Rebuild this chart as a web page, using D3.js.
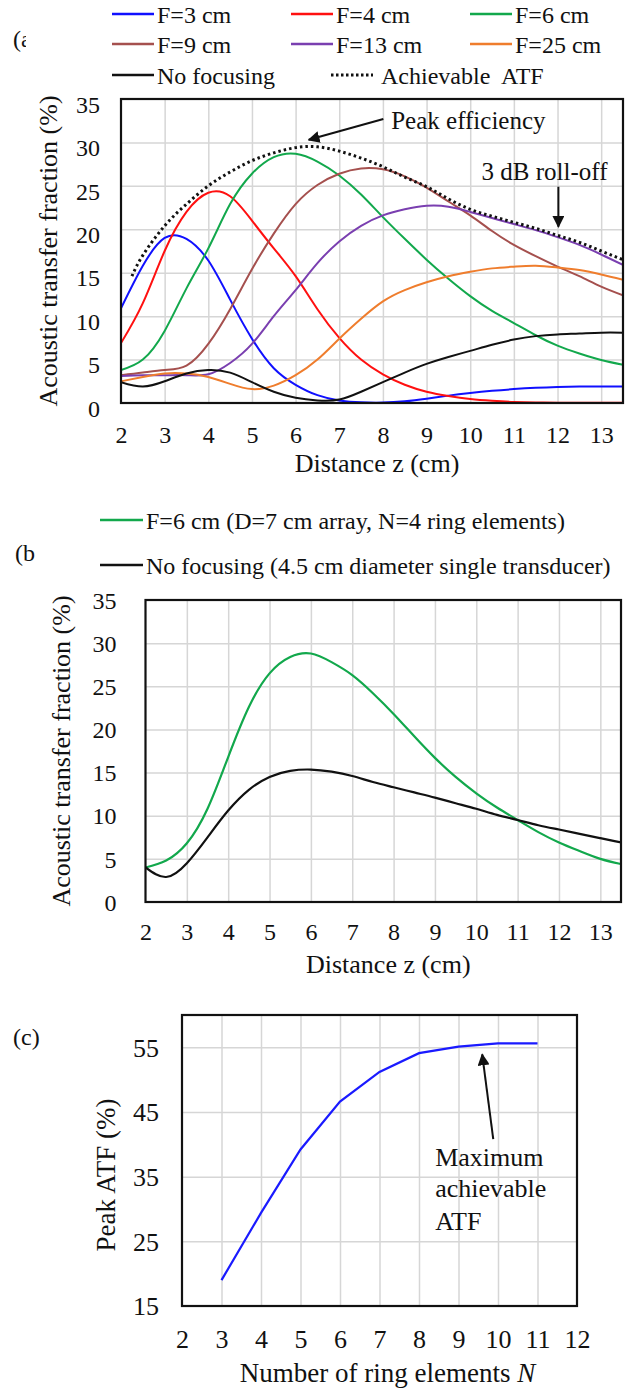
<!DOCTYPE html>
<html><head><meta charset="utf-8">
<script src="https://cdn.jsdelivr.net/npm/d3@7"></script>
<style>
html,body{margin:0;padding:0;background:#fff;}
</style></head>
<body><svg id="chart" width="627" height="1389"></svg>
<script>
// ---------- Data ----------
const zGrid = [2,2.5,3,3.5,4,4.5,5,5.5,6,6.5,7,7.5,8,8.5,9,9.5,10,10.5,11,11.5,12,12.5,13,13.5];
const xTicksZ = [2,3,4,5,6,7,8,9,10,11,12,13];
const yTicksATF = [0,5,10,15,20,25,30,35];

const atfF3  = [10.9,15.8,19.0,18.9,16.4,11.9,7.4,4.0,2.1,0.9,0.3,0.08,0.05,0.2,0.5,0.85,1.15,1.4,1.6,1.75,1.85,1.9,1.9,1.9];
const atfF4  = [6.9,11.5,17.5,22.0,24.2,23.8,21.0,17.8,14.6,10.8,7.5,5.0,3.3,2.1,1.3,0.8,0.45,0.25,0.12,0.06,0.04,0.03,0.03,0.03];
const atfF6  = [3.8,5.0,8.3,13.2,17.8,22.9,26.4,28.3,28.7,27.8,26.2,24.0,21.4,18.9,16.5,14.3,12.3,10.6,9.2,7.8,6.6,5.7,4.95,4.4];
const atfF9  = [3.2,3.5,3.8,4.3,6.8,10.8,15.4,19.5,22.9,25.1,26.4,27.0,26.9,26.1,24.8,23.2,21.6,19.8,18.2,16.9,15.7,14.6,13.4,12.4];
const atfF13 = [3.1,3.2,3.2,3.2,3.3,4.6,6.8,10.0,13.0,16.1,18.6,20.4,21.6,22.3,22.7,22.6,22.0,21.3,20.6,19.9,19.1,18.2,17.1,15.9];
const atfF25 = [2.5,3.0,3.4,3.4,3.0,2.2,1.6,2.0,3.2,5.0,7.4,9.7,11.7,13.0,13.9,14.6,15.1,15.5,15.7,15.8,15.6,15.3,14.8,14.2];
const atfNoFocus = [2.4,1.9,2.5,3.4,3.8,3.5,2.4,1.3,0.6,0.3,0.4,1.3,2.4,3.5,4.5,5.3,6.0,6.7,7.3,7.7,7.9,8.0,8.1,8.1];

const zAchievable = [2.25,2.5,3,3.5,4,4.5,5,5.5,6,6.5,7,7.5,8,8.5,9,9.5,10,10.5,11,11.5,12,12.5,13,13.5];
const atfAchievable = [14.6,17.0,20.4,22.9,25.0,26.6,27.9,28.8,29.4,29.5,29.0,28.2,27.2,26.0,24.9,23.5,22.3,21.5,20.8,20.1,19.3,18.5,17.5,16.5];

const seriesNamesA = ["F=3 cm","F=4 cm","F=6 cm","F=9 cm","F=13 cm","F=25 cm","No focusing","Achievable\u00a0 ATF"];
const seriesColorsA = ["#1010ff","#ff1010","#12a84c","#a5504e","#7a3fb0","#ef7d2d","#111111","#111111"];

// panel (b)
const atfB_F6 = [4.0,4.8,6.8,10.8,16.8,22.6,26.5,28.4,28.8,27.8,26.3,24.2,21.8,19.2,16.7,14.5,12.6,10.95,9.5,8.1,6.9,5.9,5.0,4.4];
const atfB_NoFocus = [4.0,2.9,4.5,7.5,10.6,13.0,14.5,15.2,15.35,15.1,14.6,13.9,13.3,12.7,12.1,11.45,10.8,10.1,9.5,8.9,8.4,7.9,7.4,6.9];
const seriesNamesB = ["F=6 cm (D=7 cm array, N=4 ring elements)","No focusing (4.5 cm diameter single transducer)"];

// panel (c)
const ringN = [3,4,5,6,7,8,9,10,11];
const peakATF = [19.0,29.4,39.2,46.6,51.2,54.1,55.1,55.6,55.6];
const xTicksN = [2,3,4,5,6,7,8,9,10,11,12];
const yTicksPeak = [15,25,35,45,55];

// ---------- Drawing ----------
const FONT = '"Liberation Serif", "Times New Roman", Tinos, "DejaVu Serif", serif';
const svg = d3.select("#chart").attr("font-family", FONT);
svg.append("rect").attr("width",627).attr("height",1389).attr("fill","#fff");

const defs = svg.append("defs");
defs.append("marker").attr("id","ah").attr("viewBox","0 0 10 10").attr("refX",9).attr("refY",5)
  .attr("markerWidth",6).attr("markerHeight",6).attr("markerUnits","strokeWidth").attr("orient","auto")
  .append("path").attr("d","M0,0 L10,5 L0,10 Z").attr("fill","#111");
defs.append("clipPath").attr("id","clipA").append("rect").attr("x",0).attr("y",20).attr("width",26).attr("height",40);

const GRID = "#d6d6d6";
const curve = d3.curveNatural;

function txt(sel){ return sel.attr("font-family",FONT).attr("fill","#111"); }
function plotClip(id,x,y){
  const [x0,x1]=x.range(),[y0,y1]=y.range();
  defs.append("clipPath").attr("id",id).append("rect").attr("x",x0).attr("y",y1-2).attr("width",x1-x0).attr("height",y0-y1+2);
}

function panel(g, x, y, xt, yt, opts){
  const [x0,x1] = x.range(), [y0,y1] = y.range();
  g.append("g").attr("transform",`translate(0,${y0})`)
    .call(d3.axisBottom(x).tickValues(xt.filter(v=>v>x.domain()[0] && v<x.domain()[1])).tickSize(-(y0-y1)).tickFormat(""))
    .call(s=>{s.select(".domain").remove(); s.selectAll("line").attr("stroke",GRID).attr("stroke-width",1.5);});
  g.append("g").attr("transform",`translate(${x0},0)`)
    .call(d3.axisLeft(y).tickValues(yt.filter(v=>v>y.domain()[0] && v<y.domain()[1])).tickSize(-(x1-x0)).tickFormat(""))
    .call(s=>{s.select(".domain").remove(); s.selectAll("line").attr("stroke",GRID).attr("stroke-width",1.5);});
  g.append("g").attr("transform",`translate(0,${y0})`)
    .call(d3.axisBottom(x).tickValues(xt).tickSize(0).tickFormat(d3.format("d")))
    .call(s=>{s.attr("font-family",FONT).attr("font-size",opts.fs); s.select(".domain").remove();
      txt(s.selectAll("text")).attr("y",opts.xTickY).attr("dy",0);});
  g.append("g").attr("transform",`translate(${x0},0)`)
    .call(d3.axisLeft(y).tickValues(yt).tickSize(0).tickPadding(opts.yPad).tickFormat(d3.format("d")))
    .call(s=>{s.attr("font-family",FONT).attr("font-size",opts.fs); s.select(".domain").remove();
      txt(s.selectAll("text")).attr("y",opts.yTickDY).attr("dy","0.34em");});
  txt(g.append("text")).attr("x",(x0+x1)/2+opts.titleDx).attr("y",opts.xTitleY).attr("text-anchor","middle")
    .attr("font-size",opts.tfs).html(opts.xTitle);
  txt(g.append("text")).attr("transform",`translate(${opts.yTitleX},${opts.yTitleCY}) rotate(-90)`)
    .attr("text-anchor","middle").attr("font-size",opts.tfs).text(opts.yTitle);
}
function frame(g,x,y){
  const [x0,x1]=x.range(),[y0,y1]=y.range();
  g.append("rect").attr("x",x0).attr("y",y1).attr("width",x1-x0).attr("height",y0-y1)
   .attr("fill","none").attr("stroke","#111").attr("stroke-width",2.2);
}

// ---- Panel (a)
const xA = d3.scaleLinear([2,13.5],[121,623]);
const yA = d3.scaleLinear([0,35],[403,99]);
plotClip("clipPA",xA,yA);
const gA = svg.append("g");
panel(gA,xA,yA,xTicksZ,yTicksATF,{fs:24,tfs:26,xTickY:40,yPad:21,yTickDY:5,titleDx:5,xTitleY:472,
  yTitleX:57,yTitleCY:251,xTitle:"Distance z (cm)",yTitle:"Acoustic transfer fraction (%)"});
const lineA = d3.line().x((d,i)=>xA(zGrid[i])).y(d=>yA(d)).curve(curve);
const seriesA = [atfF3,atfF4,atfF6,atfF9,atfF13,atfF25,atfNoFocus];
const gAc = gA.append("g").attr("clip-path","url(#clipPA)");
gAc.selectAll("path.sa").data(seriesA).join("path").attr("class","sa")
  .attr("d",lineA).attr("fill","none").attr("stroke",(d,i)=>seriesColorsA[i]).attr("stroke-width",2);
const lineAch = d3.line().x((d,i)=>xA(zAchievable[i])).y(d=>yA(d)).curve(curve);
gAc.append("path").datum(atfAchievable).attr("d",lineAch).attr("fill","none").attr("stroke","#111")
  .attr("stroke-width",3).attr("stroke-dasharray","2.5,3");
frame(gA,xA,yA);

gA.append("line").attr("x1",xA(8.01)).attr("y1",yA(32.7)).attr("x2",xA(6.3)).attr("y2",yA(30.3))
  .attr("stroke","#111").attr("stroke-width",2).attr("marker-end","url(#ah)");
txt(gA.append("text")).attr("x",xA(8.19)).attr("y",yA(31.5)).attr("font-size",25).text("Peak efficiency");
gA.append("line").attr("x1",xA(12.02)).attr("y1",yA(24.9)).attr("x2",xA(12.02)).attr("y2",yA(20.3))
  .attr("stroke","#111").attr("stroke-width",2).attr("marker-end","url(#ah)");
txt(gA.append("text")).attr("x",xA(10.26)).attr("y",yA(25.7)).attr("font-size",25).text("3 dB roll-off");

const legCols = [112,291,470], legRows = [14,44,75];
seriesNamesA.forEach((nm,i)=>{
  const cx = legCols[i%3], cy = legRows[Math.floor(i/3)];
  const isDot = i===7;
  const lx0 = isDot ? 331 : cx, lx1 = isDot ? 373 : cx+42;
  gA.append("line").attr("x1",lx0).attr("x2",lx1).attr("y1",cy).attr("y2",cy)
    .attr("stroke",seriesColorsA[i]).attr("stroke-width",isDot?3:2.5).attr("stroke-dasharray",isDot?"2.5,2.5":null);
  txt(gA.append("text")).attr("x",isDot?381:cx+45).attr("y",cy+8.5).attr("font-size",24).text(nm);
});
txt(svg.append("text")).attr("x",13).attr("y",47).attr("font-size",24).attr("clip-path","url(#clipA)").text("(a");

// ---- Panel (b)
const xB = d3.scaleLinear([2,13.5],[145.5,621]);
const yB = d3.scaleLinear([0,35],[902,600]);
plotClip("clipPB",xB,yB);
const gB = svg.append("g");
panel(gB,xB,yB,xTicksZ,yTicksATF,{fs:24,tfs:26,xTickY:38,yPad:29,yTickDY:0,titleDx:5,xTitleY:973,
  yTitleX:70,yTitleCY:751,xTitle:"Distance z (cm)",yTitle:"Acoustic transfer fraction (%)"});
const lineB = d3.line().x((d,i)=>xB(zGrid[i])).y(d=>yB(d)).curve(curve);
const seriesB = [atfB_F6, atfB_NoFocus], colorsB = ["#12a84c","#111111"];
gB.append("g").attr("clip-path","url(#clipPB)").selectAll("path.sb").data(seriesB).join("path").attr("class","sb")
  .attr("d",lineB).attr("fill","none").attr("stroke",(d,i)=>colorsB[i]).attr("stroke-width",2.2);
frame(gB,xB,yB);
[520,565].forEach((cy,i)=>{
  gB.append("line").attr("x1",100).attr("x2",143).attr("y1",cy).attr("y2",cy).attr("stroke",colorsB[i]).attr("stroke-width",2.5);
  txt(gB.append("text")).attr("x",146).attr("y",cy+8.5).attr("font-size",24).text(seriesNamesB[i]);
});
txt(svg.append("text")).attr("x",15).attr("y",561).attr("font-size",24).text("(b");

// ---- Panel (c)
const xC = d3.scaleLinear([2,12],[182,577]);
const yC = d3.scaleLinear([15,60],[1306,1015]);
const gC = svg.append("g");
panel(gC,xC,yC,xTicksN,yTicksPeak,{fs:26,tfs:27,xTickY:42,yPad:23,yTickDY:0,titleDx:8,xTitleY:1382,
  yTitleX:115,yTitleCY:1175,xTitle:"Number of ring elements <tspan font-style='italic'>N</tspan>",yTitle:"Peak ATF (%)"});
gC.append("path").datum(peakATF)
  .attr("d",d3.line().x((d,i)=>xC(ringN[i])).y(d=>yC(d)))
  .attr("fill","none").attr("stroke","#1a1aff").attr("stroke-width",2.2);
frame(gC,xC,yC);
gC.append("line").attr("x1",xC(9.88)).attr("y1",yC(40.8)).attr("x2",xC(9.6)).attr("y2",yC(53.9))
  .attr("stroke","#111").attr("stroke-width",2).attr("marker-end","url(#ah)");
[["Maximum",36.6],["achievable",31.8],["ATF",26.7]].forEach(([t,v])=>{
  txt(gC.append("text")).attr("x",xC(8.41)).attr("y",yC(v)).attr("font-size",26).text(t);
});
txt(svg.append("text")).attr("x",13).attr("y",1045).attr("font-size",24).text("(c)");
</script></body></html>
